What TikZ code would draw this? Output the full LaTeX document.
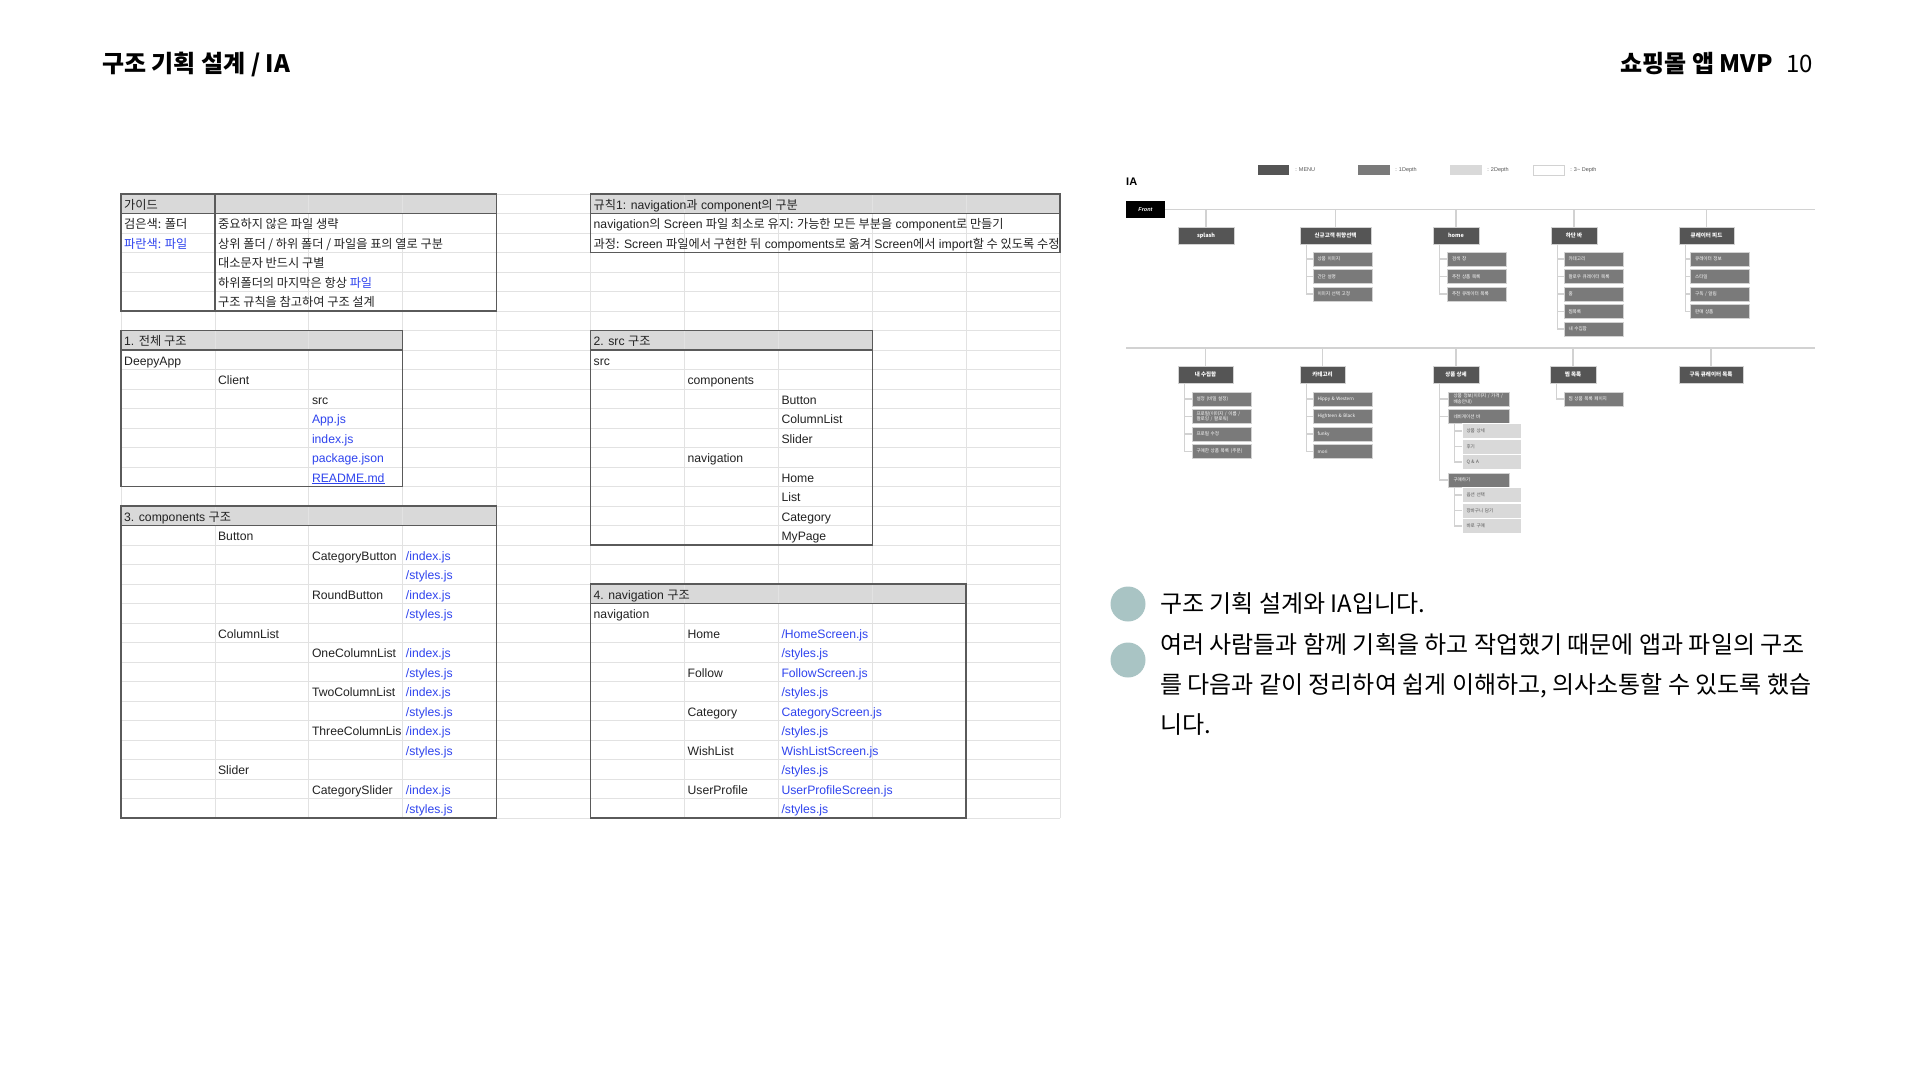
\documentclass[tikz,border=0pt]{standalone}
\usepackage{fontspec}
\setmainfont{Liberation Sans}
\newfontfamily\krfont{Noto Sans CJK KR}
\usetikzlibrary{positioning}

\definecolor{gridc}{HTML}{E2E2E2}
\definecolor{framec}{HTML}{5A5A5A}
\definecolor{headc}{HTML}{D9D9D9}
\definecolor{cellc}{HTML}{222222}
\definecolor{filec}{HTML}{2F44EE}
\definecolor{menuc}{HTML}{555555}
\definecolor{depa}{HTML}{7A7A7A}
\definecolor{depb}{HTML}{D9D9D9}
\definecolor{iline}{HTML}{D2D2D2}
\definecolor{legc}{HTML}{555555}
\definecolor{dotc}{HTML}{A9C4C4}

\newcommand{\ko}[1]{{\krfont #1}}
% sheet cell: [colour] column, row, text
\newcommand{\cell}[4][cellc]{\node[cellt,text=#1] (c#2-#3) at ({124+93.9*#2},{194+19.5*#3+15}) {#4};}

\tikzset{
  gridl/.style={draw=gridc, line width=0.8pt},
  tblframe/.style={draw=framec, line width=1.3pt},
  cellt/.style={anchor=base west, inner sep=0pt, font=\fontsize{12.2}{14}\selectfont},
  iconn/.style={draw=iline, line width=1.4pt},
  iamenu/.style={fill=menuc, draw=iline, line width=0.6pt, text=white, minimum height=17pt, inner sep=0pt, font=\krfont\bfseries\fontsize{5.5}{6}\selectfont},
  depone/.style={fill=depa, draw=iline, line width=0.6pt, text=white, minimum height=14pt, minimum width=59pt, text width=50pt, align=left, inner sep=0pt, font=\krfont\fontsize{4.6}{5.4}\selectfont},
  deptwo/.style={depone, fill=depb, draw=white, text=legc, minimum height=15pt},
  legtext/.style={anchor=west, inner sep=0pt, text=legc, font=\fontsize{5.5}{6}\selectfont},
  dotmark/.style={circle, fill=dotc, minimum size=35pt, inner sep=0pt},
  bodyt/.style={anchor=base west, inner sep=0pt, text=black, font=\krfont\fontsize{24}{28}\selectfont}
}

\begin{document}
\begin{tikzpicture}[x=1pt,y=-1pt]
\fill[white] (0,0) rectangle (1920,1080);
\useasboundingbox (0,0) rectangle (1920,1080);

% titles
\node[anchor=base west, inner sep=0pt, font=\krfont\bfseries\fontsize{24}{28}\selectfont] (title) at (102,72.5) {구조 기획 설계 / IA};
\node[anchor=base east, inner sep=0pt, font=\krfont\bfseries\fontsize{24}{28}\selectfont] (proj) at (1773,72.5) {쇼핑몰 앱 MVP};
\node[anchor=base east, inner sep=0pt, font=\krfont\fontsize{24}{28}\selectfont] (page) at (1813,72.5) {10};

% sheet: header fills, grid, frames
\foreach \tc/\tr/\nc/\nr in {0/0/4/6, 0/7/3/8, 0/16/4/16, 5/0/5/3, 5/7/3/11, 5/20/4/12}
  \fill[headc] ({121+93.9*\tc},{194+19.5*\tr}) rectangle ++({93.9*\nc},19.5);
\foreach \i in {0,...,10}
  \draw[gridl] ({121+93.9*\i},194) -- ++(0,624);
\foreach \j in {0,...,32}
  \draw[gridl] (121,{194+19.5*\j}) -- (1060,{194+19.5*\j});
\foreach \tc/\tr/\nc/\nr in {0/0/4/6, 0/7/3/8, 0/16/4/16, 5/0/5/3, 5/7/3/11, 5/20/4/12}{
  \draw[tblframe] ({121+93.9*\tc},{194+19.5*\tr}) rectangle ++({93.9*\nc},{19.5*\nr});
  \draw[tblframe] ({121+93.9*\tc},{194+19.5*(\tr+1)}) -- ++({93.9*\nc},0);
}
\draw[tblframe] (214.9,194) -- (214.9,311);

% guide
\cell{0}{0}{\ko{가이드}}
\cell{0}{1}{\ko{검은색: 폴더}}
\cell[filec]{0}{2}{\ko{파란색: 파일}}
\cell{1}{1}{\ko{중요하지 않은 파일 생략}}
\cell{1}{2}{\ko{상위 폴더 / 하위 폴더 / 파일을 표의 열로 구분}}
\cell{1}{3}{\ko{대소문자 반드시 구별}}
\cell{1}{4}{\ko{하위폴더의 마지막은 항상 \textcolor{filec}{파일}}}
\cell{1}{5}{\ko{구조 규칙을 참고하여 구조 설계}}

% 1. overall
\cell{0}{7}{1. \ko{전체 구조}}
\cell{0}{8}{DeepyApp}
\cell{1}{9}{Client}
\cell{2}{10}{src}
\cell[filec]{2}{11}{App.js}
\cell[filec]{2}{12}{index.js}
\cell[filec]{2}{13}{package.json}
\cell[filec]{2}{14}{\underline{README.md}}

% 3. components
\cell{0}{16}{3. components \ko{구조}}
\cell{1}{17}{Button}
\cell{2}{18}{CategoryButton}
\cell{2}{20}{RoundButton}
\cell{1}{22}{ColumnList}
\cell{2}{23}{OneColumnList}
\cell{2}{25}{TwoColumnList}
\cell{2}{27}{ThreeColumnLis}
\cell{1}{29}{Slider}
\cell{2}{30}{CategorySlider}
\foreach \r in {18,20,23,25,27,30}{
  \cell[filec]{3}{\r}{/index.js}
  \pgfmathtruncatemacro{\rs}{\r+1}
  \cell[filec]{3}{\rs}{/styles.js}
}

% rule 1
\cell{5}{0}{\ko{규칙}1: navigation\ko{과} component\ko{의 구분}}
\cell{5}{1}{navigation\ko{의} Screen \ko{파일 최소로 유지: 가능한 모든 부분을} component\ko{로 만들기}}
\cell{5}{2}{\ko{과정:} Screen \ko{파일에서 구현한 뒤} compoments\ko{로 옮겨} Screen\ko{에서} import\ko{할 수 있도록 수정}}

% 2. src
\cell{5}{7}{2. src \ko{구조}}
\cell{5}{8}{src}
\cell{6}{9}{components}
\cell{7}{10}{Button}
\cell{7}{11}{ColumnList}
\cell{7}{12}{Slider}
\cell{6}{13}{navigation}
\cell{7}{14}{Home}
\cell{7}{15}{List}
\cell{7}{16}{Category}
\cell{7}{17}{MyPage}

% 4. navigation
\cell{5}{20}{4. navigation \ko{구조}}
\cell{5}{21}{navigation}
\foreach \r/\dir/\scr in {22/Home/{/HomeScreen.js}, 24/Follow/FollowScreen.js, 26/Category/CategoryScreen.js, 28/WishList/WishListScreen.js, 30/UserProfile/UserProfileScreen.js}{
  \cell{6}{\r}{\dir}
  \cell[filec]{7}{\r}{\scr}
  \pgfmathtruncatemacro{\rs}{\r+1}
  \cell[filec]{7}{\rs}{/styles.js}
}

% IA legend
\node[anchor=base west, inner sep=0pt, font=\bfseries\fontsize{11}{12}\selectfont] (ia) at (1126,185) {IA};
\node[fill=menuc, minimum width=31pt, minimum height=10pt, inner sep=0pt] (lgmenu) at (1273.5,170) {};
\node[legtext, right=6pt of lgmenu] (lgmenut) {: MENU};
\node[fill=depa, minimum width=32pt, minimum height=10pt, inner sep=0pt] (lgone) at (1374,170) {};
\node[legtext, right=5pt of lgone] (lgonet) {: 1Depth};
\node[fill=depb, minimum width=32pt, minimum height=10pt, inner sep=0pt] (lgtwo) at (1466,170) {};
\node[legtext, right=5pt of lgtwo] (lgtwot) {: 2Depth};
\node[draw=iline, fill=white, minimum width=31pt, minimum height=10pt, inner sep=0pt] (lgthree) at (1548.5,170) {};
\node[legtext, right=6pt of lgthree] (lgthreet) {: 3\textasciitilde{} Depth};

% IA front and main lines
\node[fill=black, text=white, minimum width=39pt, minimum height=17pt, inner sep=0pt, font=\bfseries\itshape\fontsize{5.5}{6}\selectfont] (front) at (1145.5,209.5) {Front};
\coordinate (topend) at (1815,209.5);
\coordinate (botstart) at (1126,348);
\coordinate (botend) at (1815,348);
\draw[iconn] (front.east) -- (topend);
\draw[iconn] (botstart) -- (botend);

% IA top row
\node[iamenu, minimum width=56pt] (splash) at (1206,235.5) {splash};
\node[iamenu, minimum width=71pt] (newc) at (1335.5,235.5) {신규고객 취향선택};
\node[iamenu, minimum width=46pt] (home) at (1456,235.5) {home};
\node[iamenu, minimum width=46pt] (tabbar) at (1574,235.5) {하단 바};
\node[iamenu, minimum width=55pt] (feed) at (1706.5,235.5) {큐레이터 피드};
\foreach \b in {splash,newc,home,tabbar,feed}
  \draw[iconn] (\b.north) -- (\b.north |- topend);

\foreach \t [count=\k] in {상품 이미지, 간단 설명, 이미지 선택 고정}
  \node[depone] (na\k) at (1342.5,{241.5+17.5*\k}) {\t};
\foreach \t [count=\k] in {검색 창, 추천 상품 목록, 추천 큐레이터 목록}
  \node[depone] (nb\k) at (1477,{241.5+17.5*\k}) {\t};
\foreach \t [count=\k] in {카테고리, 팔로우 큐레이터 목록, 홈, 찜목록, 내 수집함}
  \node[depone] (nc\k) at (1593.5,{241.5+17.5*\k}) {\t};
\foreach \t [count=\k] in {큐레이터 정보, 스타일, 구독 / 알림, 판매 상품}
  \node[depone] (nd\k) at (1720,{241.5+17.5*\k}) {\t};
\foreach \k in {1,2,3}{
  \draw[iconn] ([xshift=7pt]newc.south west) |- (na\k.west);
  \draw[iconn] ([xshift=7pt]home.south west) |- (nb\k.west);
}
\foreach \k in {1,...,5}
  \draw[iconn] ([xshift=7pt]tabbar.south west) |- (nc\k.west);
\foreach \k in {1,...,4}
  \draw[iconn] ([xshift=7pt]feed.south west) |- (nd\k.west);

% IA bottom row
\node[iamenu, minimum width=55pt] (mybox) at (1205.5,374.5) {내 수집함};
\node[iamenu, minimum width=45pt] (categ) at (1322.5,374.5) {카테고리};
\node[iamenu, minimum width=46pt] (detail) at (1456,374.5) {상품 상세};
\node[iamenu, minimum width=46pt] (wish) at (1573,374.5) {찜 목록};
\node[iamenu, minimum width=64pt] (subs) at (1711,374.5) {구독 큐레이터 목록};
\foreach \b in {mybox,categ,detail,wish,subs}
  \draw[iconn] (\b.north) -- (\b.north |- botend);

\foreach \t [count=\k] in {설정 (비밀 설정), {프로필(이미지 / 이름 / 팔로잉 / 팔로워)}, 프로필 수정, 구매한 상품 목록 (주문)}
  \node[depone] (ma\k) at (1221.5,{381.5+17.5*\k}) {\t};
\foreach \t [count=\k] in {Hippy \& Western, Highteen \& Black, funky, mori}
  \node[depone] (mb\k) at (1342.5,{381.5+17.5*\k}) {\t};
\node[depone, minimum width=61pt] (ga1) at (1478.5,399) {상품 정보(이미지 / 가격 / 배송안내)};
\node[depone, minimum width=61pt] (ga2) at (1478.5,416.5) {네비게이션 바};
\node[depone, minimum width=61pt] (ga3) at (1478.5,480) {구매하기};
\foreach \t [count=\k] in {상품 상세, 후기, Q \& A}
  \node[deptwo] (gb\k) at (1491.5,{415.5+15.5*\k}) {\t};
\foreach \t [count=\k] in {옵션 선택, 장바구니 담기, 바로 구매}
  \node[deptwo] (gc\k) at (1491.5,{479.5+15.5*\k}) {\t};
\node[depone] (wa1) at (1593.5,399) {찜 상품 목록 페이지};
\foreach \k in {1,...,4}{
  \draw[iconn] ([xshift=7pt]mybox.south west) |- (ma\k.west);
  \draw[iconn] ([xshift=7pt]categ.south west) |- (mb\k.west);
}
\foreach \k in {1,2,3}{
  \draw[iconn] ([xshift=7pt]detail.south west) |- (ga\k.west);
  \draw[iconn] ([xshift=7pt]ga2.south west) |- (gb\k.west);
  \draw[iconn] ([xshift=7pt]ga3.south west) |- (gc\k.west);
}
\draw[iconn] ([xshift=7pt]wish.south west) |- (wa1.west);

% notes
\node[dotmark] (dot1) at (1128,604) {};
\node[dotmark] (dot2) at (1128,660) {};
\node[bodyt] (ln1) at (1160,612.5) {구조 기획 설계와 IA입니다.};
\node[bodyt] (ln2) at (1160,653) {여러 사람들과 함께 기획을 하고 작업했기 때문에 앱과 파일의 구조};
\node[bodyt] (ln3) at (1160,693.5) {를 다음과 같이 정리하여 쉽게 이해하고, 의사소통할 수 있도록 했습};
\node[bodyt] (ln4) at (1160,733) {니다.};

\end{tikzpicture}
\end{document}
